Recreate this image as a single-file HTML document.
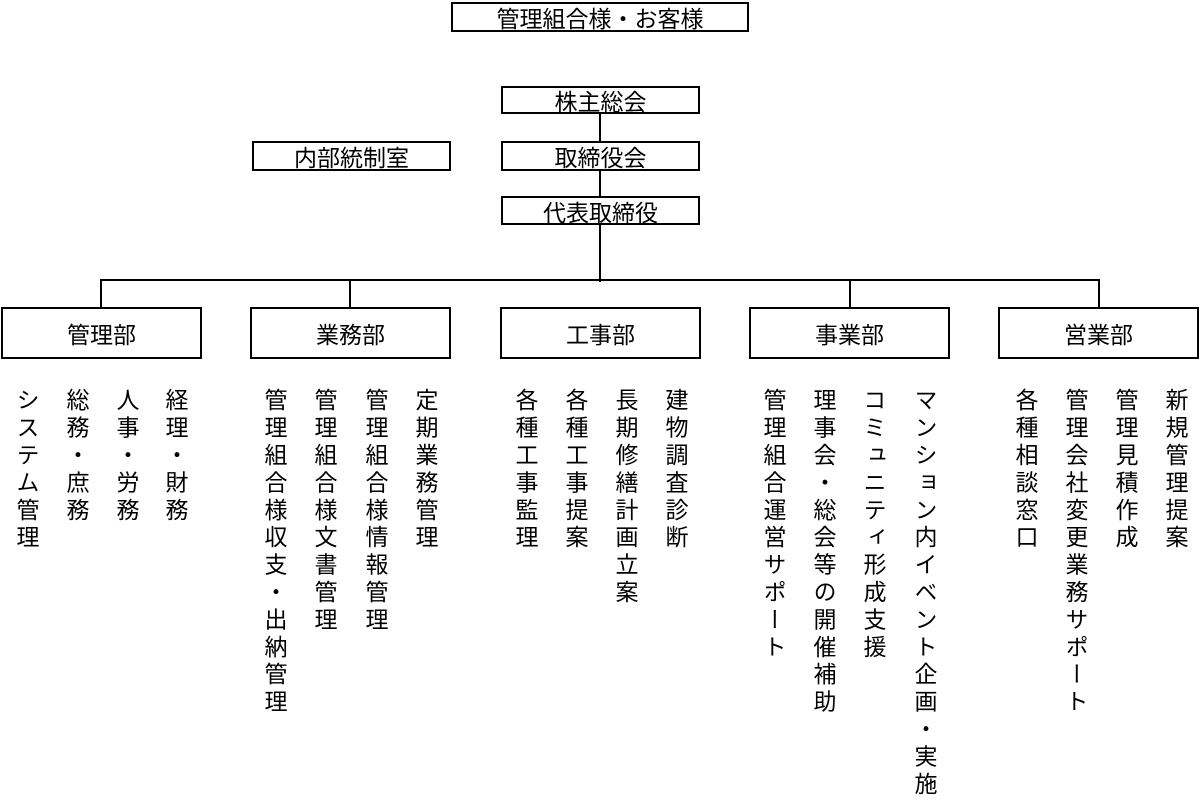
<!DOCTYPE html>
<html><head><meta charset="utf-8"><style>
body{margin:0;width:1200px;height:806px;background:#fff;position:relative;overflow:hidden;font-family:"Liberation Sans","Noto Sans CJK JP",sans-serif;color:#000}
.b{position:absolute;border:2px solid #000;box-sizing:border-box;display:flex;align-items:center;justify-content:center;font-size:23px;background:#fff}
.l{position:absolute;background:#000}
.v{position:absolute;top:388px;writing-mode:vertical-rl;font-size:23px;letter-spacing:4.4px;line-height:24px;width:24px;white-space:nowrap}
</style></head><body>
<div class="b" style="left:451px;top:2px;width:298px;height:30px">管理組合様・お客様</div>
<div class="l" style="left:599px;top:112px;width:2px;height:170px"></div>
<div class="l" style="left:100px;top:279px;width:1000px;height:2px"></div>
<div class="l" style="left:100px;top:279px;width:2px;height:30px"></div>
<div class="l" style="left:349px;top:279px;width:2px;height:30px"></div>
<div class="l" style="left:849px;top:279px;width:2px;height:30px"></div>
<div class="l" style="left:1098px;top:279px;width:2px;height:30px"></div>
<div class="b" style="left:501px;top:86px;width:199px;height:28px">株主総会</div>
<div class="b" style="left:501px;top:141px;width:199px;height:30px">取締役会</div>
<div class="b" style="left:252px;top:141px;width:199px;height:30px">内部統制室</div>
<div class="b" style="left:501px;top:196px;width:199px;height:29px">代表取締役</div>
<div class="b" style="left:1px;top:307px;width:201px;height:52px">管理部</div>
<div class="b" style="left:250px;top:307px;width:201px;height:52px">業務部</div>
<div class="b" style="left:500px;top:307px;width:201px;height:52px">工事部</div>
<div class="b" style="left:749px;top:307px;width:201px;height:52px">事業部</div>
<div class="b" style="left:998px;top:307px;width:201px;height:52px">営業部</div>

<div class="v" style="left:14px">システム管理</div>
<div class="v" style="left:64px">総務・庶務</div>
<div class="v" style="left:114px">人事・労務</div>
<div class="v" style="left:163px">経理・財務</div>

<div class="v" style="left:262px">管理組合様収支・出納管理</div>
<div class="v" style="left:312px">管理組合様文書管理</div>
<div class="v" style="left:363px">管理組合様情報管理</div>
<div class="v" style="left:413px">定期業務管理</div>

<div class="v" style="left:513px">各種工事監理</div>
<div class="v" style="left:563px">各種工事提案</div>
<div class="v" style="left:613px">長期修繕計画立案</div>
<div class="v" style="left:663px">建物調査診断</div>

<div class="v" style="left:761px">管理組合運営サポート</div>
<div class="v" style="left:811px">理事会・総会等の開催補助</div>
<div class="v" style="left:861px">コミュニティ形成支援</div>
<div class="v" style="left:912px">マンション内イベント企画・実施</div>

<div class="v" style="left:1013px">各種相談窓口</div>
<div class="v" style="left:1063px">管理会社変更業務サポート</div>
<div class="v" style="left:1113px">管理見積作成</div>
<div class="v" style="left:1163px">新規管理提案</div>
</body></html>
